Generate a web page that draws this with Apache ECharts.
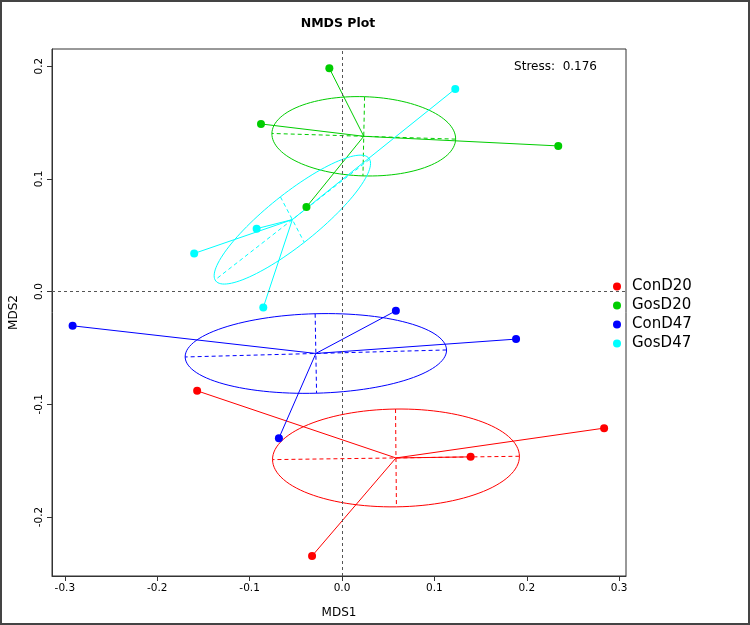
<!DOCTYPE html>
<html>
<head>
<meta charset="utf-8">
<script src="https://cdn.jsdelivr.net/npm/echarts@6/dist/echarts.min.js"></script>
<style>html,body{margin:0;padding:0;background:#fff}#main{width:750px;height:625px}</style>
</head>
<body>
<div id="main"></div>
<script>
// ---- data ----
const groupNames = ['ConD20', 'GosD20', 'ConD47', 'GosD47'];
const conD20_x = [-0.1568, 0.1392, 0.2837, -0.0324];
const conD20_y = [-0.0881, -0.1467, -0.1212, -0.2346];
const gosD20_x = [-0.0137, -0.0877, -0.0385, 0.2341];
const gosD20_y = [0.1981, 0.1487, 0.0750, 0.1292];
const conD47_x = [-0.2916, 0.0583, 0.1884, -0.0683];
const conD47_y = [-0.0304, -0.0171, -0.0422, -0.1301];
const gosD47_x = [-0.0852, -0.0924, -0.1600, 0.1226];
const gosD47_y = [-0.0141, 0.0558, 0.0338, 0.1798];
const xTicks = [-0.3, -0.2, -0.1, 0.0, 0.1, 0.2, 0.3];
const yTicks = [-0.2, -0.1, 0.0, 0.1, 0.2];
const xRange = [-0.3139, 0.3074];
const yRange = [-0.2524, 0.2152];
const stressValue = '0.176';

// ---- styling ----
const colors = ['#FF0000', '#00CD00', '#0000FF', '#00FFFF'];
const FONT = 'DejaVu Sans';
const ELL_K = 0.692; // ellipse scale relative to SD

const groupX = [conD20_x, gosD20_x, conD47_x, gosD47_x];
const groupY = [conD20_y, gosD20_y, conD47_y, gosD47_y];

function stats(xs, ys) {
  const n = xs.length;
  const mx = xs.reduce((a, b) => a + b, 0) / n;
  const my = ys.reduce((a, b) => a + b, 0) / n;
  let sxx = 0, syy = 0, sxy = 0;
  for (let i = 0; i < n; i++) {
    const dx = xs[i] - mx, dy = ys[i] - my;
    sxx += dx * dx; syy += dy * dy; sxy += dx * dy;
  }
  sxx /= (n - 1); syy /= (n - 1); sxy /= (n - 1);
  const th = 0.5 * Math.atan2(2 * sxy, sxx - syy);
  const m = (sxx + syy) / 2, d = Math.sqrt(((sxx - syy) / 2) ** 2 + sxy * sxy);
  return { mx, my, th, a: Math.sqrt(m + d) * ELL_K, b: Math.sqrt(Math.max(m - d, 0)) * ELL_K };
}

const series = [];
groupNames.forEach((name, g) => {
  const st = stats(groupX[g], groupY[g]);
  const pts = groupX[g].map((x, i) => [x, groupY[g][i]]);
  const col = colors[g];
  series.push({
    type: 'custom',
    id: 'overlay_' + name,
    silent: true,
    z: 2,
    data: pts,
    encode: { x: 0, y: 1 },
    renderItem: function (params, api) {
      const c = api.coord([st.mx, st.my]);
      const p = api.coord([api.value(0), api.value(1)]);
      const children = [{
        type: 'line',
        shape: { x1: c[0], y1: c[1], x2: p[0], y2: p[1] },
        style: { stroke: col, lineWidth: 1 }
      }];
      if (params.dataIndex === 0) {
        const ct = Math.cos(st.th), sn = Math.sin(st.th);
        const ell = [];
        for (let k = 0; k < 120; k++) {
          const t = k / 120 * 2 * Math.PI;
          const ex = st.a * Math.cos(t), ey = st.b * Math.sin(t);
          ell.push(api.coord([st.mx + ex * ct - ey * sn, st.my + ex * sn + ey * ct]));
        }
        children.push({ type: 'polygon', shape: { points: ell }, style: { fill: 'none', stroke: col, lineWidth: 1 } });
        const A1 = api.coord([st.mx + st.a * ct, st.my + st.a * sn]);
        const A2 = api.coord([st.mx - st.a * ct, st.my - st.a * sn]);
        const B1 = api.coord([st.mx - st.b * sn, st.my + st.b * ct]);
        const B2 = api.coord([st.mx + st.b * sn, st.my - st.b * ct]);
        children.push({ type: 'line', shape: { x1: A1[0], y1: A1[1], x2: A2[0], y2: A2[1] }, style: { stroke: col, lineWidth: 1, lineDash: [4, 3] } });
        children.push({ type: 'line', shape: { x1: B1[0], y1: B1[1], x2: B2[0], y2: B2[1] }, style: { stroke: col, lineWidth: 1, lineDash: [4, 3] } });
      }
      return { type: 'group', children };
    }
  });
});
groupNames.forEach((name, g) => {
  const s = {
    type: 'scatter',
    name: name,
    z: 5,
    symbol: 'circle',
    symbolSize: 8,
    itemStyle: { color: colors[g], opacity: 1 },
    data: groupX[g].map((x, i) => [x, groupY[g][i]])
  };
  if (g === 0) {
    s.markLine = {
      silent: true,
      symbol: 'none',
      label: { show: false },
      lineStyle: { type: [3, 3], color: '#555', width: 1 },
      data: [{ xAxis: 0 }, { yAxis: 0 }]
    };
  }
  series.push(s);
});

const chart = echarts.init(document.getElementById('main'), null, { renderer: 'canvas' });
chart.setOption({
  animation: false,
  backgroundColor: '#fff',
  textStyle: { fontFamily: FONT },
  grid: { left: 50, top: 49, width: 576, height: 527, show: true, borderColor: '#333', borderWidth: 1, containLabel: false },
  xAxis: {
    type: 'value', min: xRange[0], max: xRange[1],
    name: 'MDS1', nameLocation: 'middle', nameGap: 31,
    nameTextStyle: { fontSize: 12, color: '#000', fontFamily: FONT },
    splitLine: { show: false },
    axisLine: { show: true, onZero: false, lineStyle: { color: '#333' } },
    axisTick: { show: true, length: 5, lineStyle: { color: '#333' }, customValues: xTicks },
    axisLabel: { customValues: xTicks, fontSize: 10.5, color: '#000', fontFamily: FONT, margin: 7,
      formatter: v => v.toFixed(1) }
  },
  yAxis: {
    type: 'value', min: yRange[0], max: yRange[1],
    name: 'MDS2', nameLocation: 'middle', nameGap: 32,
    nameTextStyle: { fontSize: 12, color: '#000', fontFamily: FONT },
    splitLine: { show: false },
    axisLine: { show: true, onZero: false, lineStyle: { color: '#333' } },
    axisTick: { show: true, length: 5, lineStyle: { color: '#333' }, customValues: yTicks },
    axisLabel: { customValues: yTicks, rotate: 90, fontSize: 10.5, color: '#000', fontFamily: FONT, margin: 7,
      formatter: v => v.toFixed(1) }
  },
  legend: {
    orient: 'vertical', left: 608, top: 274,
    data: groupNames, icon: 'circle', itemWidth: 20, itemHeight: 8, itemGap: 4,
    itemStyle: { opacity: 1 },
    textStyle: { fontSize: 15, color: '#000', fontFamily: FONT }
  },
  graphic: [
    { type: 'rect', silent: true, shape: { x: 1, y: 1, width: 748, height: 623 }, style: { fill: 'none', stroke: '#444', lineWidth: 2 } },
    { type: 'text', silent: true, x: 338, y: 24, style: { text: 'NMDS Plot', fontFamily: FONT, fontSize: 12.5, fontWeight: 'bold', fill: '#000', align: 'center', verticalAlign: 'middle' } },
    { type: 'text', silent: true, x: 597, y: 67, style: { text: 'Stress:  ' + stressValue, fontFamily: FONT, fontSize: 12, fill: '#000', align: 'right', verticalAlign: 'middle' } }
  ],
  series: series
});
</script>
</body>
</html>
